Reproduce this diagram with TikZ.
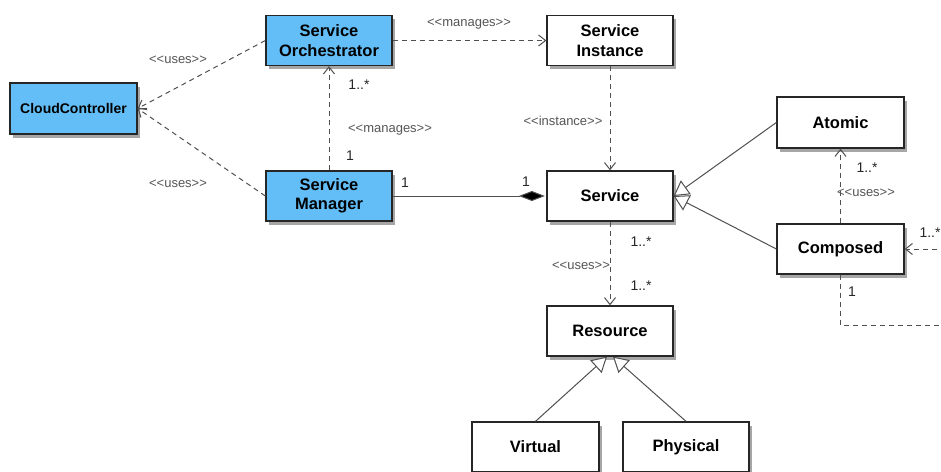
\documentclass[tikz,border=0pt]{standalone}
\usepackage{fontspec}
\setmainfont{Liberation Sans}[Ligatures=TeXOff]
\usetikzlibrary{arrows.meta,shadows}
\definecolor{boxblue}{RGB}{99,190,248}
\definecolor{linegray}{RGB}{80,80,80}
\definecolor{labgray}{RGB}{85,85,85}
\newcommand\stereo[1]{\textless\textless#1\textgreater\textgreater}
\begin{document}
\begin{tikzpicture}[x=1pt,y=-1pt,
  cls/.style={draw=black!85, line width=1.3pt, fill=white, minimum width=126pt, minimum height=50pt, inner sep=0pt, align=center,
    font=\fontsize{16.5}{19.5}\selectfont\bfseries,
    drop shadow={shadow xshift=2.5pt,shadow yshift=-3.5pt,opacity=0.35,fill=black}},
  bluecls/.style={cls, fill=boxblue},
  dep/.style={draw=linegray, line width=1pt, dash pattern=on 5pt off 4pt, -{Straight Barb[length=7pt,width=11pt]}},
  comp/.style={draw=linegray, line width=1pt, -{Diamond[length=26pt,width=10pt,fill=black,sep=1.5pt]}},
  gen/.style={draw=linegray, line width=1pt, -{Triangle[length=15pt,width=17pt,fill=white]}},
  lab/.style={text=labgray, inner sep=0pt, font=\fontsize{13}{15}\selectfont},
  mult/.style={text=black!85, inner sep=0pt, font=\fontsize{14}{16}\selectfont}
]
\useasboundingbox (0,0) rectangle (941,471);
\fill[white] (0,0) rectangle (941,471);
\clip (0,0) rectangle (941,471);

% classes
\node[bluecls] (orch) at (329,40.5) {Service\\Orchestrator};
\node[bluecls, minimum width=127pt, minimum height=51pt, font=\fontsize{14}{16}\selectfont\bfseries] (cloud) at (73.5,108.5) {CloudController};
\node[bluecls] (mgr) at (329,196) {Service\\Manager};
\node[cls] (inst) at (610,40.5) {Service\\Instance};
\node[cls] (svc) at (610,196) {Service};
\node[cls, minimum width=127pt, minimum height=51pt] (atomic) at (840.5,122.5) {Atomic};
\node[cls, minimum width=127pt] (composed) at (840.5,249) {Composed};
\node[cls] (res) at (610,331) {Resource};
\node[cls, minimum width=127pt] (virt) at (535.5,447) {Virtual};
\node[cls] (phys) at (686,447) {Physical};

% connectors
\draw[dep] (orch.west) -- (cloud.east);
\draw[dep] (mgr.west) -- (cloud.east);
\draw[dep] (mgr.north) -- (orch.south);
\draw[dep] (orch.east) -- (inst.west);
\draw[dep] (inst.south) -- (svc.north);
\draw[comp] (mgr.east) -- (svc.west);
\draw[gen] (atomic.west) -- (svc.east);
\draw[gen] (composed.west) -- (svc.east);
\draw[dep] (composed.north) -- (atomic.south);
\draw[dep] (svc.south) -- (res.north);
\draw[gen] (virt.north) -- ([xshift=-3pt]res.south);
\draw[gen] (phys.north) -- ([xshift=3pt]res.south);
\coordinate (loopc) at (965,325);
\draw[dep] (composed.south) |- (loopc) |- (composed.east);

% labels
\node[lab] (l1) at (469,24) {\stereo{manages}};
\node[lab] (l2) at (178,60) {\stereo{uses}};
\node[lab] (l3) at (178,184) {\stereo{uses}};
\node[lab] (l4) at (390,130) {\stereo{manages}};
\node[lab] (l5) at (563,121) {\stereo{instance}};
\node[lab] (l6) at (866,193) {\stereo{uses}};
\node[lab] (l7) at (581,266) {\stereo{uses}};

\node[mult] (m1) at (359,85) {1..*};
\node[mult] (m2) at (350,156) {1};
\node[mult] (m3) at (405,183) {1};
\node[mult] (m4) at (526,182) {1};
\node[mult] (m5) at (867,168) {1..*};
\node[mult] (m6) at (930,233) {1..*};
\node[mult] (m7) at (852,292) {1};
\node[mult] (m8) at (641,242) {1..*};
\node[mult] (m9) at (641,286) {1..*};
\end{tikzpicture}
\end{document}
